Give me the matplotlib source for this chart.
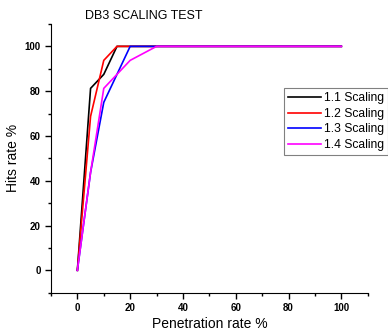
import matplotlib
matplotlib.use('Agg')
import matplotlib.pyplot as plt

plt.rcParams['font.family'] = ['Liberation Sans', 'DejaVu Sans']

pen = [0, 5, 10, 15, 20, 25, 30, 35, 40, 45, 50, 55, 60, 65, 70, 75, 80, 85, 90, 95, 100]
s11 = [0, 81.25, 87.5, 100] + [100] * 17
s12 = [0, 68.75, 93.75, 100] + [100] * 17
s13 = [0, 43.75, 75, 87.5, 100] + [100] * 16
s14 = [0, 43.75, 81.25, 87.5, 93.75, 96.875, 100] + [100] * 14

series = [(s11, 'black', '1.1 Scaling'),
          (s12, 'red', '1.2 Scaling'),
          (s13, 'blue', '1.3 Scaling'),
          (s14, 'magenta', '1.4 Scaling')]

fig = plt.figure(figsize=(3.88, 3.33), dpi=100)
ax = fig.add_axes([0.1314, 0.121, 0.8163, 0.807])

for ys, c, lab in series:
    ax.plot(pen, ys, color=c, lw=1.2, label=lab)

ax.set_xlim(-10, 110)
ax.set_ylim(-10, 110)
ax.set_xticks([0, 20, 40, 60, 80, 100])
ax.set_yticks([0, 20, 40, 60, 80, 100])
ax.set_xticks(range(-10, 111, 10), minor=True)
ax.set_yticks(range(-10, 111, 10), minor=True)
ax.spines['top'].set_visible(False)
ax.spines['right'].set_visible(False)
ax.tick_params(direction='out', length=4, width=1, labelsize=7)
ax.tick_params(which='minor', direction='out', length=2, width=1)
for t in ax.get_xticklabels() + ax.get_yticklabels():
    t.set_fontweight('bold')

ax.set_xlabel('Penetration rate %', fontsize=10, labelpad=3)
ax.set_ylabel('Hits rate %', fontsize=10, labelpad=3)
fig.text(0.371, 0.952, 'DB3 SCALING TEST', fontsize=9, ha='center', va='center')

leg = ax.legend(loc='upper left', bbox_to_anchor=(284 / 388, 1 - 88 / 333),
                bbox_transform=fig.transFigure, fontsize=8.7, fancybox=False,
                framealpha=1, edgecolor='gray', borderpad=0.35, labelspacing=0.3,
                handlelength=2.75, handletextpad=0.2, borderaxespad=0)
leg.get_frame().set_linewidth(0.8)

fig.savefig('out.png', dpi=100)
